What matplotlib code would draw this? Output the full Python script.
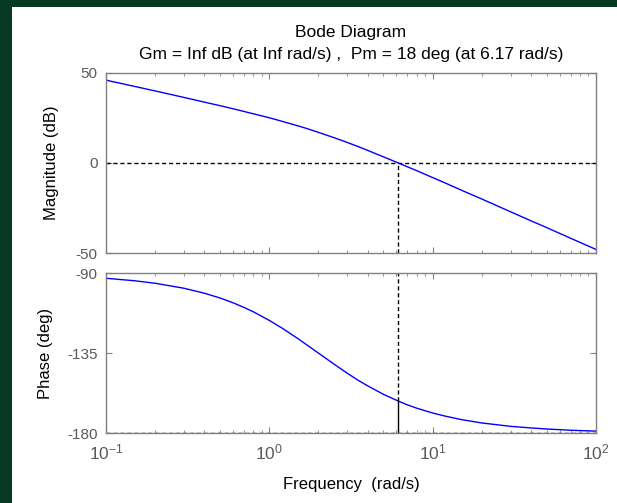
import matplotlib.pyplot as plt
from matplotlib.patches import Rectangle
from matplotlib.ticker import LogLocator, NullFormatter

# values (open loop, crossover near 6.17 rad/s)
freq = [0.1, 0.15, 0.2, 0.3, 0.4, 0.5, 0.6, 0.7, 0.8, 1, 1.2, 1.5, 1.7, 2, 2.5, 3, 3.5,
        4, 5, 6.17, 7, 8, 10, 12, 15, 20, 30, 40, 50, 70, 100]
mag_db = [46.0, 42.5, 40.0, 36.4, 33.8, 31.8, 30.1, 28.6, 27.3, 25.1, 23.1, 20.6, 19.1,
          17.0, 14.0, 11.4, 9.1, 7.0, 3.4, 0.0, -2.1, -4.3, -8.1, -11.2, -15.1, -20.0,
          -27.1, -32.1, -35.9, -41.8, -48.0]
phase_deg = [-92.9, -94.3, -95.7, -98.5, -101.3, -104.0, -106.7, -109.3, -111.8, -116.6,
             -121.0, -126.9, -130.4, -135.0, -141.3, -146.3, -150.3, -153.4, -158.2,
             -162.0, -164.1, -166.0, -168.7, -170.5, -172.4, -174.3, -176.2, -177.1,
             -177.7, -178.4, -178.9]
wc = 6.17
pm_phase = -162.0
mag_ticks = [-50, 0, 50]
phase_ticks = [-180, -135, -90]

plt.rcParams['font.family'] = ['Liberation Sans', 'DejaVu Sans']
plt.rcParams['mathtext.fontset'] = 'custom'
plt.rcParams['mathtext.rm'] = 'Liberation Sans'
plt.rcParams['mathtext.it'] = 'Liberation Sans'
plt.rcParams['axes.unicode_minus'] = False

gray = '#808080'
tick_gray = '#5a5a5a'

fig = plt.figure(figsize=(6.17, 5.03), dpi=100, facecolor='#063a24')
fig.patches.append(Rectangle((12 / 617, 0), 1 - 12 / 617, 496 / 503,
                             transform=fig.transFigure, facecolor='white',
                             edgecolor='none', zorder=-10))

ax1 = fig.add_axes([0.1718, 0.497, 0.794, 0.358])
ax2 = fig.add_axes([0.1718, 0.139, 0.794, 0.318])

dash = (0, (3, 2))

ax1.plot(freq, mag_db, color='#0000ff', lw=1)
ax1.axhline(0, color='black', lw=1, ls=dash)
ax1.plot([wc, wc], [-50, 0], color='black', lw=1, ls=dash)
ax1.set_ylim(-50, 50)
ax1.set_yticks(mag_ticks)
ax1.set_ylabel('Magnitude (dB)', fontsize=12, labelpad=12)

ax2.plot(freq, phase_deg, color='#0000ff', lw=1)
ax2.axhline(-180, color='black', lw=1, ls=dash)
ax2.plot([wc, wc], [pm_phase, -90], color='black', lw=1, ls=dash)
ax2.plot([wc, wc], [-180, pm_phase], color='black', lw=1)
ax2.set_ylim(-180, -90)
ax2.set_yticks(phase_ticks)
ax2.set_ylabel('Phase (deg)', fontsize=12, labelpad=10)
ax2.set_xlabel('Frequency  (rad/s)', fontsize=12, labelpad=10)

for ax in (ax1, ax2):
    ax.set_xscale('log')
    ax.set_xlim(0.1, 100)
    ax.xaxis.set_major_locator(LogLocator(base=10, numticks=10))
    ax.xaxis.set_minor_locator(LogLocator(base=10, subs=range(2, 10), numticks=20))
    ax.xaxis.set_minor_formatter(NullFormatter())
    ax.tick_params(which='both', direction='in', top=True, right=True,
                   color=gray, labelcolor=tick_gray)
    ax.tick_params(axis='y', labelsize=11, pad=6)
    ax.tick_params(axis='x', labelsize=12.5, pad=7)
    ax.tick_params(which='major', length=4.3)
    ax.tick_params(which='minor', length=2.5)
    for s in ax.spines.values():
        s.set_color(gray)
        s.set_linewidth(1)

ax1.tick_params(labelbottom=False)

ax1.set_title('Bode Diagram\nGm = Inf dB (at Inf rad/s) ,  Pm = 18 deg (at 6.17 rad/s)',
              fontsize=12.5, linespacing=1.55, pad=10)

fig.savefig('out.png', dpi=100, facecolor=fig.get_facecolor())
